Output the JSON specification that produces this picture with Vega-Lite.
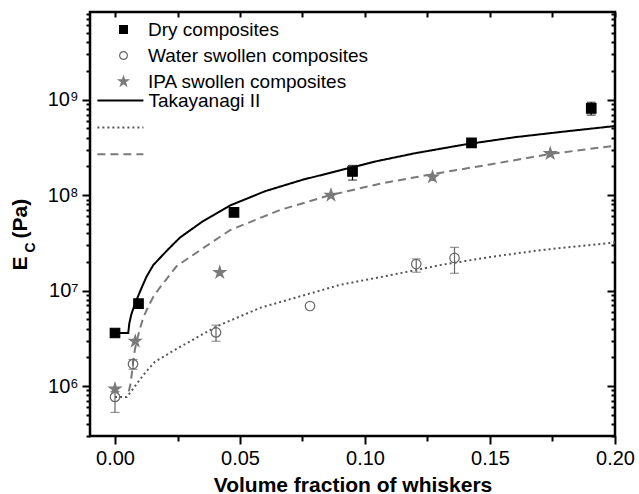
{
  "$schema": "https://vega.github.io/schema/vega-lite/v6.json",
  "width": 525,
  "height": 424,
  "autosize": {"type": "none"},
  "padding": {"left": 90, "top": 12, "right": 24, "bottom": 58},
  "background": "white",
  "config": {
    "view": {"stroke": "black", "strokeWidth": 2.5},
    "font": "Liberation Sans",
    "axis": {"grid": false, "domain": false, "tickColor": "black", "tickWidth": 2, "labelColor": "black", "titleColor": "black", "labelFont": "Liberation Sans", "titleFont": "Liberation Sans"},
    "legend": {"labelFont": "Liberation Sans", "labelColor": "black", "labelLimit": 0}
  },
  "datasets": {
    "curves": [
      {"fit": "Takayanagi II", "x": 0, "y": 3600000},
      {"fit": "Takayanagi II", "x": 0.0053, "y": 3600000},
      {"fit": "Takayanagi II", "x": 0.0057, "y": 4500000},
      {"fit": "Takayanagi II", "x": 0.0065, "y": 5600000},
      {"fit": "Takayanagi II", "x": 0.008, "y": 7300000},
      {"fit": "Takayanagi II", "x": 0.0105, "y": 10500000},
      {"fit": "Takayanagi II", "x": 0.0126, "y": 14000000},
      {"fit": "Takayanagi II", "x": 0.0153, "y": 18500000},
      {"fit": "Takayanagi II", "x": 0.0206, "y": 26000000},
      {"fit": "Takayanagi II", "x": 0.026, "y": 36000000},
      {"fit": "Takayanagi II", "x": 0.035, "y": 53000000},
      {"fit": "Takayanagi II", "x": 0.046, "y": 78000000},
      {"fit": "Takayanagi II", "x": 0.06, "y": 110000000},
      {"fit": "Takayanagi II", "x": 0.075, "y": 145000000},
      {"fit": "Takayanagi II", "x": 0.09, "y": 182000000},
      {"fit": "Takayanagi II", "x": 0.105, "y": 228000000},
      {"fit": "Takayanagi II", "x": 0.12, "y": 275000000},
      {"fit": "Takayanagi II", "x": 0.14, "y": 340000000},
      {"fit": "Takayanagi II", "x": 0.16, "y": 405000000},
      {"fit": "Takayanagi II", "x": 0.18, "y": 465000000},
      {"fit": "Takayanagi II", "x": 0.2, "y": 530000000},
      {"fit": "Water fit", "x": 0, "y": 770000},
      {"fit": "Water fit", "x": 0.0047, "y": 770000},
      {"fit": "Water fit", "x": 0.0065, "y": 880000},
      {"fit": "Water fit", "x": 0.008, "y": 1000000},
      {"fit": "Water fit", "x": 0.012, "y": 1370000},
      {"fit": "Water fit", "x": 0.016, "y": 1800000},
      {"fit": "Water fit", "x": 0.024, "y": 2400000},
      {"fit": "Water fit", "x": 0.0405, "y": 4200000},
      {"fit": "Water fit", "x": 0.058, "y": 6600000},
      {"fit": "Water fit", "x": 0.082, "y": 10000000},
      {"fit": "Water fit", "x": 0.09, "y": 11500000},
      {"fit": "Water fit", "x": 0.11, "y": 14500000},
      {"fit": "Water fit", "x": 0.13, "y": 18500000},
      {"fit": "Water fit", "x": 0.15, "y": 22500000},
      {"fit": "Water fit", "x": 0.17, "y": 26500000},
      {"fit": "Water fit", "x": 0.2, "y": 32000000},
      {"fit": "IPA fit", "x": 0.0055, "y": 880000},
      {"fit": "IPA fit", "x": 0.0062, "y": 1050000},
      {"fit": "IPA fit", "x": 0.0068, "y": 1400000},
      {"fit": "IPA fit", "x": 0.0074, "y": 1900000},
      {"fit": "IPA fit", "x": 0.008, "y": 2450000},
      {"fit": "IPA fit", "x": 0.009, "y": 3200000},
      {"fit": "IPA fit", "x": 0.01, "y": 4000000},
      {"fit": "IPA fit", "x": 0.0113, "y": 5200000},
      {"fit": "IPA fit", "x": 0.0133, "y": 6800000},
      {"fit": "IPA fit", "x": 0.0155, "y": 8800000},
      {"fit": "IPA fit", "x": 0.018, "y": 10800000},
      {"fit": "IPA fit", "x": 0.0246, "y": 18000000},
      {"fit": "IPA fit", "x": 0.034, "y": 26500000},
      {"fit": "IPA fit", "x": 0.046, "y": 43000000},
      {"fit": "IPA fit", "x": 0.066, "y": 70000000},
      {"fit": "IPA fit", "x": 0.086, "y": 100000000},
      {"fit": "IPA fit", "x": 0.106, "y": 132000000},
      {"fit": "IPA fit", "x": 0.127, "y": 166000000},
      {"fit": "IPA fit", "x": 0.15, "y": 210000000},
      {"fit": "IPA fit", "x": 0.174, "y": 270000000},
      {"fit": "IPA fit", "x": 0.2, "y": 330000000}
    ],
    "points": [
      {"series": "Dry composites", "x": 0, "y": 3600000},
      {"series": "Dry composites", "x": 0.0094, "y": 7300000},
      {"series": "Dry composites", "x": 0.0476, "y": 66000000},
      {"series": "Dry composites", "x": 0.095, "y": 177000000},
      {"series": "Dry composites", "x": 0.1426, "y": 353000000},
      {"series": "Dry composites", "x": 0.1905, "y": 810000000},
      {"series": "Water swollen composites", "x": 0, "y": 770000},
      {"series": "Water swollen composites", "x": 0.0072, "y": 1700000},
      {"series": "Water swollen composites", "x": 0.0404, "y": 3650000},
      {"series": "Water swollen composites", "x": 0.078, "y": 6900000},
      {"series": "Water swollen composites", "x": 0.1205, "y": 19000000},
      {"series": "Water swollen composites", "x": 0.1358, "y": 22000000},
      {"series": "IPA swollen composites", "x": 0, "y": 930000},
      {"series": "IPA swollen composites", "x": 0.0081, "y": 2950000},
      {"series": "IPA swollen composites", "x": 0.0419, "y": 15500000},
      {"series": "IPA swollen composites", "x": 0.0864, "y": 100000000},
      {"series": "IPA swollen composites", "x": 0.127, "y": 155000000},
      {"series": "IPA swollen composites", "x": 0.1741, "y": 273000000}
    ],
    "errs": [
      {"series": "Dry composites", "x": 0.095, "lo": 144000000, "hi": 205000000},
      {"series": "Dry composites", "x": 0.1905, "lo": 690000000, "hi": 940000000},
      {"series": "Water swollen composites", "x": 0, "lo": 530000, "hi": 880000},
      {"series": "Water swollen composites", "x": 0.0072, "lo": 1500000, "hi": 1900000},
      {"series": "Water swollen composites", "x": 0.0404, "lo": 2950000, "hi": 4350000},
      {"series": "Water swollen composites", "x": 0.1205, "lo": 15600000, "hi": 21500000},
      {"series": "Water swollen composites", "x": 0.1358, "lo": 15200000, "hi": 28400000}
    ]
  },
  "layer": [
    {
      "data": {"name": "curves"},
      "mark": {"type": "line", "strokeWidth": 2},
      "encoding": {
        "x": {"field": "x", "type": "quantitative", "scale": {"domain": [-0.01, 0.2], "nice": false, "zero": false},
          "axis": {"orient": "bottom", "values": [0, 0.025, 0.05, 0.075, 0.1, 0.125, 0.15, 0.175, 0.2],
            "labelExpr": "abs(datum.value*20 - round(datum.value*20)) < 0.001 ? format(datum.value, '.2f') : ''",
            "tickSize": {"condition": {"test": "abs(datum.value*20 - round(datum.value*20)) < 0.001", "value": 8}, "value": 5},
            "labelFontSize": 20, "labelPadding": 4, "labelFlush": false, "labelBound": false, "labelOverlap": false,
            "title": "Volume fraction of whiskers", "titleFontSize": 21, "titleFontWeight": "bold", "titleBaseline": "alphabetic", "titleY": 55}},
        "y": {"field": "y", "type": "quantitative", "scale": {"type": "log", "domain": [300000, 8300000000], "nice": false},
          "axis": {"orient": "left",
            "values": [300000, 400000, 500000, 600000, 700000, 800000, 900000, 1000000, 2000000, 3000000, 4000000, 5000000, 6000000, 7000000, 8000000, 9000000, 10000000, 20000000, 30000000, 40000000, 50000000, 60000000, 70000000, 80000000, 90000000, 100000000, 200000000, 300000000, 400000000, 500000000, 600000000, 700000000, 800000000, 900000000, 1000000000, 2000000000, 3000000000, 4000000000, 5000000000, 6000000000, 7000000000, 8000000000],
            "labelExpr": "abs(log(datum.value)/LN10 - round(log(datum.value)/LN10)) > 0.001 ? '' : round(log(datum.value)/LN10) == 6 ? '10⁶' : round(log(datum.value)/LN10) == 7 ? '10⁷' : round(log(datum.value)/LN10) == 8 ? '10⁸' : round(log(datum.value)/LN10) == 9 ? '10⁹' : ''",
            "tickSize": {"condition": {"test": "abs(log(datum.value)/LN10 - round(log(datum.value)/LN10)) < 0.001", "value": 8}, "value": 4},
            "labelFontSize": 20, "labelPadding": 4, "labelOverlap": false, "labelFlush": false, "labelBound": false,
            "title": "E", "titleFontSize": 21, "titleFontWeight": "bold", "titleAngle": 270, "titleAlign": "left", "titleBaseline": "alphabetic", "titleX": -64, "titleY": 258}},
        "color": {"field": "fit", "type": "nominal",
          "scale": {"domain": ["Takayanagi II", "Water fit", "IPA fit"], "range": ["black", "#555555", "#7a7a7a"]},
          "legend": {"orient": "none", "legendX": 19.4, "legendY": 77.5, "title": null, "symbolType": "M-2.4,0H2.4", "symbolSize": 368, "symbolStrokeWidth": 2,
            "labelFontSize": 19, "labelOffset": 17, "rowPadding": 5.9, "padding": 0,
            "labelExpr": "datum.label == 'Takayanagi II' ? datum.label : ''"}},
        "strokeDash": {"field": "fit", "type": "nominal",
          "scale": {"domain": ["Takayanagi II", "Water fit", "IPA fit"], "range": [[1, 0], [2, 3], [8, 5]]},
          "legend": {"orient": "none", "legendX": 19.4, "legendY": 77.5, "title": null, "symbolType": "M-2.4,0H2.4", "symbolSize": 368, "symbolStrokeWidth": 2,
            "labelFontSize": 19, "labelOffset": 17, "rowPadding": 5.9, "padding": 0,
            "labelExpr": "datum.label == 'Takayanagi II' ? datum.label : ''"}}
      }
    },
    {
      "data": {"name": "errs"},
      "transform": [{"filter": "datum.series == 'Dry composites'"}],
      "mark": {"type": "errorbar", "ticks": {"size": 9}, "color": "black", "thickness": 1.2},
      "encoding": {
        "x": {"field": "x", "type": "quantitative", "scale": {"domain": [-0.01, 0.2], "nice": false, "zero": false},
          "axis": {"orient": "top", "values": [0, 0.025, 0.05, 0.075, 0.1, 0.125, 0.15, 0.175, 0.2], "labels": false, "tickSize": -5,
            "title": "(Pa)", "titleFontSize": 21, "titleFontWeight": "bold", "titleAngle": 270, "titleAlign": "left", "titleBaseline": "alphabetic", "titleX": -64, "titleY": 226}},
        "y": {"field": "lo", "type": "quantitative", "scale": {"type": "log", "domain": [300000, 8300000000], "nice": false},
          "axis": {"orient": "right",
            "values": [300000, 400000, 500000, 600000, 700000, 800000, 900000, 1000000, 2000000, 3000000, 4000000, 5000000, 6000000, 7000000, 8000000, 9000000, 10000000, 20000000, 30000000, 40000000, 50000000, 60000000, 70000000, 80000000, 90000000, 100000000, 200000000, 300000000, 400000000, 500000000, 600000000, 700000000, 800000000, 900000000, 1000000000, 2000000000, 3000000000, 4000000000, 5000000000, 6000000000, 7000000000, 8000000000],
            "labels": false,
            "tickSize": {"condition": {"test": "abs(log(datum.value)/LN10 - round(log(datum.value)/LN10)) < 0.001", "value": -8}, "value": -4},
            "title": "C", "titleFontSize": 14, "titleFontWeight": "bold", "titleAngle": 270, "titleAlign": "left", "titleBaseline": "alphabetic", "titleX": -581, "titleY": 240}},
        "y2": {"field": "hi"}
      }
    },
    {
      "data": {"name": "errs"},
      "transform": [{"filter": "datum.series == 'Water swollen composites'"}],
      "mark": {"type": "errorbar", "ticks": {"size": 9}, "color": "#666666", "thickness": 1.2},
      "encoding": {
        "x": {"field": "x", "type": "quantitative", "scale": {"domain": [-0.01, 0.2], "nice": false, "zero": false}, "axis": null},
        "y": {"field": "lo", "type": "quantitative", "scale": {"type": "log", "domain": [300000, 8300000000], "nice": false}, "axis": null},
        "y2": {"field": "hi"}
      }
    },
    {
      "data": {"name": "points"},
      "mark": {"type": "point", "size": 90, "strokeWidth": 1.2, "opacity": 1},
      "encoding": {
        "x": {"field": "x", "type": "quantitative", "scale": {"domain": [-0.01, 0.2], "nice": false, "zero": false}, "axis": null},
        "y": {"field": "y", "type": "quantitative", "scale": {"type": "log", "domain": [300000, 8300000000], "nice": false}, "axis": null},
        "shape": {"field": "series", "type": "nominal",
          "scale": {"domain": ["Dry composites", "Water swollen composites", "IPA swollen composites"],
            "range": ["square", "circle", "M0,-1.3L0.292,-0.402L1.236,-0.402L0.472,0.153L0.764,1.052L0,0.497L-0.764,1.052L-0.472,0.153L-1.236,-0.402L-0.292,-0.402Z"]},
          "legend": {"orient": "none", "legendX": 24, "legendY": 8, "title": null, "symbolSize": 60, "symbolStrokeWidth": 1.2,
            "labelFontSize": 19, "labelOffset": 15, "rowPadding": 6, "padding": 0}},
        "fill": {"field": "series", "type": "nominal",
          "scale": {"domain": ["Dry composites", "Water swollen composites", "IPA swollen composites"], "range": ["black", "transparent", "#7a7a7a"]},
          "legend": {"orient": "none", "legendX": 24, "legendY": 8, "title": null, "symbolSize": 60, "symbolStrokeWidth": 1.2,
            "labelFontSize": 19, "labelOffset": 15, "rowPadding": 6, "padding": 0}},
        "stroke": {"field": "series", "type": "nominal",
          "scale": {"domain": ["Dry composites", "Water swollen composites", "IPA swollen composites"], "range": ["black", "#666666", "#7a7a7a"]},
          "legend": {"orient": "none", "legendX": 24, "legendY": 8, "title": null, "symbolSize": 60, "symbolStrokeWidth": 1.2,
            "labelFontSize": 19, "labelOffset": 15, "rowPadding": 6, "padding": 0}}
      }
    }
  ],
  "resolve": {"axis": {"x": "independent", "y": "independent"}}
}
